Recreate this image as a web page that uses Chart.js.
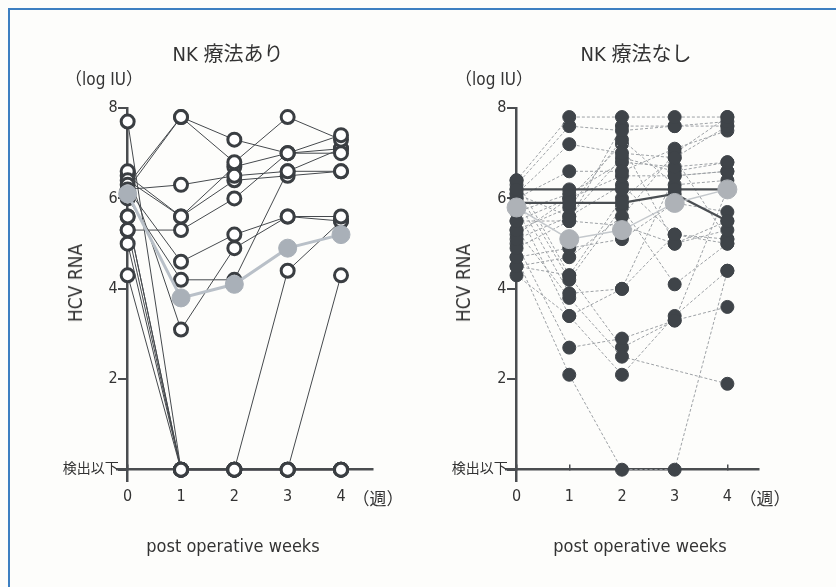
<!DOCTYPE html>
<html>
<head>
<meta charset="utf-8">
<script src="https://cdn.jsdelivr.net/npm/chart.js@4.4.1/dist/chart.umd.min.js"></script>
<style>
  html, body { margin: 0; padding: 0; background: #fdfdfb; }
  #page { position: relative; width: 836px; height: 587px; overflow: hidden; }
  #frame { position: absolute; left: 8px; top: 8px; width: 900px; height: 700px;
           border-left: 2px solid #3d7fc1; border-top: 2px solid #3d7fc1; }
  canvas { position: absolute; top: 0; }
  .txt { position: absolute; color: #333; white-space: nowrap;
         font-family: 'DejaVu Sans Condensed', 'Noto Sans CJK JP', sans-serif; font-stretch: condensed; }
  .title { font-size: 20px; transform: translate(-50%, -50%); }
  .unit { font-size: 17px; transform: translate(-50%, -50%); }
  .ylab { font-size: 19px; transform: translate(-50%, -50%) rotate(-90deg); }
  .xlab { font-size: 18px; transform: translate(-50%, -50%); }
  .wk { font-size: 17px; transform: translate(-50%, -50%); }
</style>
</head>
<body>
<div id="page">
  <div id="frame"></div>
  <canvas id="left" width="418" height="587" style="left:0"></canvas>
  <canvas id="right" width="418" height="587" style="left:418px"></canvas>

  <div class="txt title" style="left:228px; top:52px">NK 療法あり</div>
  <div class="txt title" style="left:636px; top:52px">NK 療法なし</div>
  <div class="txt unit" style="left:104px; top:77px">（log IU）</div>
  <div class="txt unit" style="left:494px; top:77px">（log IU）</div>
  <div class="txt ylab" style="left:75px; top:283px">HCV RNA</div>
  <div class="txt ylab" style="left:463px; top:283px">HCV RNA</div>
  <div class="txt xlab" style="left:233px; top:545px">post operative weeks</div>
  <div class="txt xlab" style="left:640px; top:545px">post operative weeks</div>
  <div class="txt wk" style="left:378px; top:497px">（週）</div>
  <div class="txt wk" style="left:765px; top:497px">（週）</div>
</div>

<script>
// weeks after operation, and y ticks (0 = below detection limit)
const weeks = [0, 1, 2, 3, 4];
const yTicks = [0, 2, 4, 6, 8];
const belowDetection = '検出以下';

// NK therapy group (open circles), log IU per week
const nkPatients = [
    [6.2, 7.8, 7.3, 7.0, 7.4],
    [6.3, 7.8, 6.8, 7.8, 7.3],
    [6.2, 6.3, 6.5, 6.6, 6.6],
    [6.4, 5.6, 6.4, 6.5, 6.6],
    [5.3, 5.3, 6.0, 7.0, 7.0],
    [6.2, 4.6, 5.2, 5.6, 5.6],
    [6.0, 4.2, 4.2, 6.6, 7.1],
    [6.6, 3.1, 4.9, 5.6, 5.5],
    [7.7, 0, 0, 4.4, 5.5],
    [5.6, 0, 0, 0, 4.3],
    [5.0, 0, 0, 0, 0],
    [4.3, 0, 0, 0, 0],
    [6.5, 5.6, 6.7, 7.0, 7.1],
    [5.3, 0, 0, 0, 0],
    [5.6, 0, 0, 0, 0]
];
const nkMean = [6.1, 3.8, 4.1, 4.9, 5.2];

// no NK therapy group (filled circles)
const ctrlPatients = [
    [6.2, 6.2, 6.2, 6.2, 6.2],
    [5.9, 5.9, 5.9, 6.1, 5.5],
    [6.4, 7.8, 7.8, 7.8, 7.8],
    [6.3, 7.6, 7.5, 7.6, 7.7],
    [6.1, 7.2, 7.0, 6.9, 7.6],
    [6.0, 6.6, 6.6, 7.1, 7.5],
    [5.7, 6.1, 6.8, 6.7, 6.8],
    [5.5, 6.0, 6.5, 6.5, 6.6],
    [5.3, 5.8, 7.3, 6.3, 6.4],
    [5.1, 5.6, 6.3, 5.2, 5.0],
    [4.9, 5.5, 5.4, 5.0, 5.3],
    [4.7, 4.9, 5.1, 5.9, 5.7],
    [4.5, 4.7, 5.6, 7.0, 7.8],
    [6.4, 4.3, 6.0, 6.9, 5.1],
    [6.2, 4.2, 5.8, 4.1, 5.0],
    [6.0, 3.9, 4.0, 6.5, 6.6],
    [5.8, 3.4, 4.0, 5.2, 5.1],
    [5.0, 2.7, 2.9, 3.3, 3.6],
    [4.7, 2.1, 0, 0, 4.4],
    [4.3, 3.4, 2.1, 3.4, 4.4],
    [5.3, 3.8, 2.5, null, 1.9],
    [4.5, 4.3, 2.7, 3.3, 6.2],
    [5.5, 5.5, 7.6, 7.6, 7.6],
    [6.1, 5.6, 6.9, 6.6, 6.8],
    [5.2, 6.0, 7.2, 5.0, 5.5]
];
const ctrlMean = [5.8, 5.1, 5.3, 5.9, 6.2];
// rows drawn as solid dark lines (the two level tracks near 6)
const ctrlSolidRows = [0, 1];

const FONT = "'DejaVu Sans Condensed', 'Noto Sans CJK JP', sans-serif";
const AXIS = '#4a4d50';

function toPoints(vals) {
    return vals.map((v, i) => ({ x: weeks[i], y: v }));
}

function makeScales() {
    return {
        x: {
            type: 'linear', min: -0.2, max: 4.6, position: { y: 0 },
            afterBuildTicks: s => { s.ticks = weeks.map(v => ({ value: v })); },
            ticks: { color: '#333', padding: 24, font: { family: FONT, size: 16 },
                     callback: v => String(v) },
            grid: { drawOnChartArea: false, drawTicks: true, tickLength: -6, color: AXIS, lineWidth: 1.5 },
            border: { display: true, color: AXIS, width: 2.5 }
        },
        y: {
            type: 'linear', min: -0.25, max: 8, position: { x: 0 },
            afterBuildTicks: s => { s.ticks = yTicks.map(v => ({ value: v })); },
            // label sits right on the axis when it is placed by value, so pad with spaces
            ticks: { color: '#333',
                     font: c => ({ family: FONT, size: c.tick && c.tick.value === 0 ? 14 : 16 }),
                     callback: v => (v === 0 ? belowDetection : String(v)) + '\u2002\u2009' },
            grid: { drawOnChartArea: false, drawTicks: true, tickLength: 8, color: AXIS, lineWidth: 2 },
            border: { display: true, color: AXIS, width: 2.5 }
        }
    };
}

function drawPanel(id, patients, mean, st, padding, solidRows) {
    const datasets = [];
    datasets.push({
        data: toPoints(mean), order: 0, clip: false,
        borderColor: st.meanLine, borderWidth: st.meanWidth,
        pointRadius: st.meanRadius, pointBackgroundColor: st.meanFill,
        pointBorderColor: st.meanFill, pointBorderWidth: 1
    });
    patients.forEach((p, i) => {
        const solid = solidRows.includes(i);
        datasets.push({
            data: toPoints(p), order: 1, clip: false, spanGaps: true,
            borderColor: solid ? st.solidLine : st.line,
            borderWidth: solid ? 2.2 : 1,
            borderDash: solid ? [] : st.dash,
            pointRadius: st.radius, pointBorderWidth: st.pointBorderWidth,
            pointBackgroundColor: st.pointFill, pointBorderColor: st.pointBorder
        });
    });

    new Chart(document.getElementById(id), {
        type: 'line',
        data: { datasets: datasets },
        options: {
            responsive: false,
            animation: false,
            devicePixelRatio: 1,
            layout: { padding: padding },
            elements: { line: { tension: 0 } },
            plugins: { legend: { display: false }, tooltip: { enabled: false } },
            scales: makeScales()
        }
    });
}

drawPanel('left', nkPatients, nkMean, {
    line: '#45494d', solidLine: '#45494d', dash: [],
    radius: 6.5, pointBorderWidth: 3, pointFill: '#ffffff', pointBorder: '#3a3e42',
    meanLine: '#b9c0c8', meanWidth: 3, meanRadius: 9, meanFill: '#a9b0b8'
}, { left: 117, right: 45, top: 108, bottom: 106 }, []);

drawPanel('right', ctrlPatients, ctrlMean, {
    line: '#9da1a5', solidLine: '#4a4e52', dash: [3, 2],
    radius: 6.5, pointBorderWidth: 1, pointFill: '#3f4449', pointBorder: '#3f4449',
    meanLine: '#c4c8cc', meanWidth: 1.5, meanRadius: 9.5, meanFill: '#aeb2b7'
}, { left: 88, right: 77, top: 108, bottom: 106 }, ctrlSolidRows);
</script>
</body>
</html>
